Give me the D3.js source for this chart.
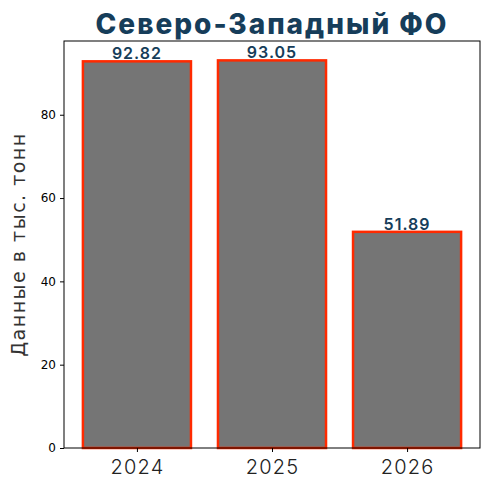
<!DOCTYPE html>
<html lang="ru">
<head>
<meta charset="utf-8">
<title>Северо-Западный ФО</title>
<script src="https://cdn.jsdelivr.net/npm/d3@7"></script>
<style>
  body { margin: 0; background: #fff; }
</style>
</head>
<body>
<script>
// data
var years = ["2024", "2025", "2026"];
var values = [92.82, 93.05, 51.89];
var yTicks = [0, 20, 40, 60, 80];

var width = 490, height = 489;
var margin = {top: 41, right: 10, bottom: 41, left: 64};
var plotW = width - margin.left - margin.right;
var plotH = height - margin.top - margin.bottom;

var svg = d3.select("body").append("svg")
    .attr("width", width)
    .attr("height", height);

// x as linear index scale, matplotlib-like margins
var x = d3.scaleLinear().domain([-0.54, 2.54]).range([margin.left, margin.left + plotW]);
var y = d3.scaleLinear().domain([0, d3.max(values) * 1.05]).range([margin.top + plotH, margin.top]);
var barW = 0.8;

var g = svg.append("g");

g.selectAll("rect.bar")
  .data(values)
  .enter()
  .append("rect")
  .attr("class", "bar")
  .attr("x", function(d, i){ return x(i - barW / 2); })
  .attr("width", function(){ return x(barW) - x(0); })
  .attr("y", function(d){ return y(d); })
  .attr("height", function(d){ return y(0) - y(d); })
  .attr("fill", "#757575")
  .attr("stroke", "#ff2a00")
  .attr("stroke-width", 2.5);

// value labels
g.selectAll("text.val")
  .data(values)
  .enter()
  .append("text")
  .attr("class", "val")
  .attr("x", function(d, i){ return x(i); })
  .attr("y", function(d){ return y(d) - 2; })
  .attr("text-anchor", "middle")
  .attr("font-family", "Inter, 'Open Sans', sans-serif")
  .attr("font-weight", 600)
  .attr("font-size", 16)
  .attr("letter-spacing", 1)
  .attr("fill", "#163d5a")
  .text(function(d){ return d.toFixed(2); });

// axes
var yAxis = d3.axisLeft(y).tickValues(yTicks).tickSize(4).tickPadding(4);
var yg = svg.append("g")
  .attr("transform", "translate(" + margin.left + ",0)")
  .call(yAxis);
yg.select(".domain").remove();
yg.selectAll("text").attr("font-family", "'DejaVu Sans', sans-serif").attr("font-size", 12).attr("fill", "#000");

var xAxis = d3.axisBottom(x).tickValues([0, 1, 2]).tickFormat(function(d){ return years[d]; }).tickSize(4).tickPadding(8);
var xg = svg.append("g")
  .attr("transform", "translate(0," + (margin.top + plotH) + ")")
  .call(xAxis);
xg.select(".domain").remove();
xg.selectAll("text").attr("font-family", "Inter, 'Open Sans', sans-serif").attr("font-size", 20).attr("font-weight", 300).attr("letter-spacing", 1.2).attr("fill", "#222");

// frame
svg.append("rect")
  .attr("x", margin.left)
  .attr("y", margin.top)
  .attr("width", plotW)
  .attr("height", plotH)
  .attr("fill", "none")
  .attr("stroke", "#000")
  .attr("stroke-width", 1);

// title
svg.append("text")
  .attr("x", margin.left + plotW / 2)
  .attr("y", 34)
  .attr("text-anchor", "middle")
  .attr("font-family", "Inter, 'Open Sans', sans-serif")
  .attr("font-weight", 800)
  .attr("font-size", 28)
  .attr("letter-spacing", 2)
  .attr("fill", "#163d5a")
  .text("Северо-Западный ФО");

// y label
svg.append("text")
  .attr("transform", "translate(25," + (margin.top + plotH / 2) + ") rotate(-90)")
  .attr("text-anchor", "middle")
  .attr("font-family", "'DejaVu Sans', sans-serif")
  .attr("font-size", 19)
  .attr("letter-spacing", 1.5)
  .attr("fill", "#333")
  .text("Данные в тыс. тонн");
</script>
</body>
</html>
